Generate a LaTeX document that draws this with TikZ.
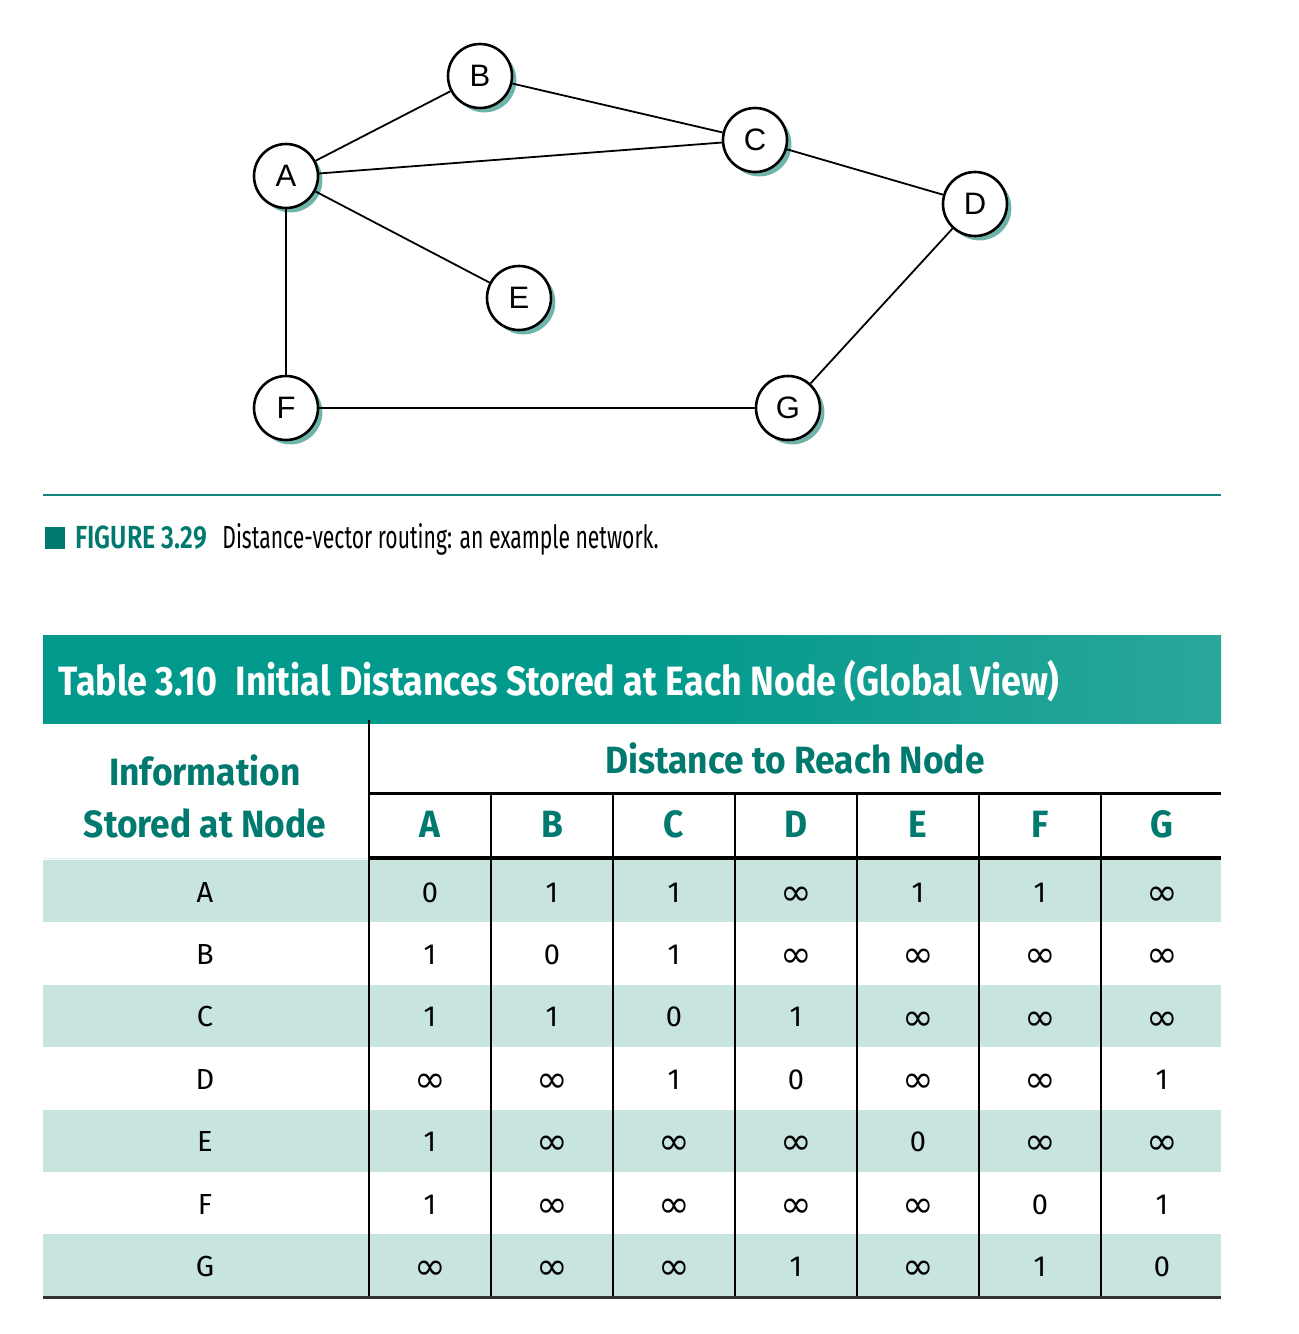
\documentclass[tikz,border=0pt]{standalone}
\usepackage{fontspec}
\setmainfont{Liberation Sans}
\newfontfamily\condb[FakeStretch=0.78]{Fira Sans SemiBold}
\newfontfamily\condB[FakeStretch=0.875]{Fira Sans Bold}
\newfontfamily\hdrf[FakeStretch=0.93]{Fira Sans Bold}
\newfontfamily\condr[FakeStretch=0.66]{Fira Sans}
\newfontfamily\cellf{Fira Sans}
\newfontfamily\inff{DejaVu Sans}
\usetikzlibrary{shadows}
\definecolor{tealdark}{RGB}{0,122,110}
\definecolor{tealband}{RGB}{0,153,139}
\definecolor{teallight}{RGB}{135,196,189}
\definecolor{tealrow}{RGB}{199,228,222}
\definecolor{tealshadow}{RGB}{110,180,170}
\definecolor{tealrule}{RGB}{20,135,125}
\pgfdeclarehorizontalshading{bandshade}{100bp}{color(0bp)=(tealband); color(50bp)=(tealband); color(78bp)=(tealband!65!teallight); color(100bp)=(teallight)}
\tikzset{
  gnode/.style={circle, draw=black, line width=1.3pt, fill=white, minimum size=32pt, inner sep=0pt,
     font=\fontsize{15.5pt}{15.5pt}\selectfont,
     drop shadow={shadow xshift=2.2pt, shadow yshift=-2.2pt, fill=tealshadow, opacity=1}},
  edge/.style={line width=0.9pt, black},
  cell/.style={font=\cellf\fontsize{14.5pt}{14.5pt}\selectfont, inner sep=0pt, anchor=base},
  hdr/.style={font=\hdrf\fontsize{19pt}{19pt}\selectfont, text=tealdark, inner sep=0pt, anchor=base},
  grid/.style={line width=1.4pt, black}
}
\newcommand{\infsym}{\raisebox{-1.6pt}{\inff\fontsize{19pt}{19pt}\selectfont ∞}}
\begin{document}
\begin{tikzpicture}[x=0.5pt, y=-0.5pt]
\useasboundingbox (0,0) rectangle (1298,1334);
% graph
\node[gnode] (A) at (286,176) {A};
\node[gnode] (B) at (480,76) {B};
\node[gnode] (C) at (755,140) {C};
\node[gnode] (D) at (975,204) {D};
\node[gnode] (E) at (519,298) {E};
\node[gnode] (F) at (286,408) {F};
\node[gnode] (G) at (788,408) {G};
\draw[edge] (A) -- (B);
\draw[edge] (A) -- (C);
\draw[edge] (B) -- (C);
\draw[edge] (C) -- (D);
\draw[edge] (A) -- (E);
\draw[edge] (A) -- (F);
\draw[edge] (F) -- (G);
\draw[edge] (G) -- (D);
% rule and caption
\coordinate (r1) at (43,495);
\coordinate (r2) at (1221,495);
\draw[tealrule, line width=1pt] (r1) -- (r2);
\fill[tealdark] (45,527) rectangle (65,549);
\node[anchor=base west, inner sep=0pt, font=\condb\fontsize{16pt}{16pt}\selectfont, text=tealdark] (figlab) at (75,548) {FIGURE 3.29};
\node[anchor=base west, inner sep=0pt, font=\condr\fontsize{16pt}{16pt}\selectfont] (figcap) at (222,548) {Distance-vector routing: an example network.};
% table band
\shade[shading=bandshade] (43,635) rectangle (1221,723);
\node[anchor=base west, inner sep=0pt, font=\condB\fontsize{20.5pt}{20.5pt}\selectfont, text=white] (title) at (58,695) {Table 3.10\hspace{0.45em}Initial Distances Stored at Each Node (Global View)};
% rows
\foreach \i in {0,2,4,6} {
  \fill[tealrow] (43,{860+62.4*\i}) rectangle (1221,{860+62.4*(\i+1)});
}
\draw[tealrow!50!white, line width=0.5pt] (43,858) -- (369,858);
% header texts
\node[hdr] (h1) at (205,785) {Information};
\node[hdr] (h2) at (205,837) {Stored at Node};
\node[hdr] (h3) at (795,773) {Distance to Reach Node};
\foreach \l [count=\k from 0] in {A,B,C,D,E,F,G} {
  \node[hdr] (col\l) at ({430+122*\k},837) {\l};
  \node[cell] (row\l) at (205,{902+62.4*\k}) {\l};
}
% grid lines
\draw[grid] (369,720) -- (369,1297);
\draw[grid] (369,793.5) -- (1221,793.5);
\foreach \k in {1,...,6} { \draw[grid] ({369+122*\k},793.5) -- ({369+122*\k},1297); }
\draw[line width=2pt, black] (369,858) -- (1221,858);
\draw[line width=1.1pt, black!80] (43,1297.5) -- (1221,1297.5);
% data
\foreach \r/\vals [count=\ri from 0] in {
  A/{0,1,1,\infsym,1,1,\infsym},
  B/{1,0,1,\infsym,\infsym,\infsym,\infsym},
  C/{1,1,0,1,\infsym,\infsym,\infsym},
  D/{\infsym,\infsym,1,0,\infsym,\infsym,1},
  E/{1,\infsym,\infsym,\infsym,0,\infsym,\infsym},
  F/{1,\infsym,\infsym,\infsym,\infsym,0,1},
  G/{\infsym,\infsym,\infsym,1,\infsym,1,0}} {
  \foreach \v [count=\ci from 0] in \vals {
    \node[cell] (c\r\ci) at ({430+122*\ci},{902+62.4*\ri}) {\v};
  }
}
\end{tikzpicture}
\end{document}
